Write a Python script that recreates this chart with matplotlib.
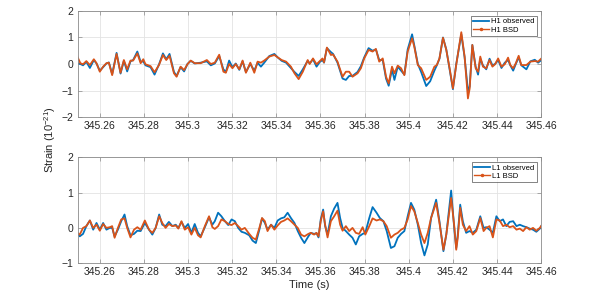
import numpy as np
import matplotlib
matplotlib.use("Agg")
import matplotlib.pyplot as plt
from matplotlib.lines import Line2D

plt.rcParams['font.family'] = ['Liberation Sans', 'DejaVu Sans']
plt.rcParams['mathtext.fontset'] = 'custom'
plt.rcParams['mathtext.rm'] = 'Liberation Sans'
plt.rcParams['mathtext.it'] = 'Liberation Sans:italic'

# H1 (time in s, strain in 1e-21)
h1_t = [345.2497, 345.2512, 345.2524, 345.2539, 345.2555, 345.2573, 345.2585, 345.2600,
        345.2615, 345.2630, 345.2641, 345.2656, 345.2676, 345.2694, 345.2709, 345.2724,
        345.2739, 345.2751, 345.2770, 345.2785, 345.2797, 345.2807, 345.2830, 345.2848,
        345.2868, 345.2886, 345.2901, 345.2916, 345.2936, 345.2948, 345.2966, 345.2982,
        345.2997, 345.3012, 345.3030, 345.3057, 345.3085, 345.3103, 345.3121, 345.3141,
        345.3160, 345.3171, 345.3186, 345.3201, 345.3216, 345.3232, 345.3247, 345.3262,
        345.3282, 345.3300, 345.3315, 345.3330, 345.3345, 345.3368, 345.3391, 345.3406,
        345.3424, 345.3444, 345.3466, 345.3482, 345.3501, 345.3520, 345.3542, 345.3551,
        345.3566, 345.3582, 345.3597, 345.3609, 345.3616, 345.3629, 345.3647, 345.3657,
        345.3677, 345.3700, 345.3715, 345.3730, 345.3745, 345.3768, 345.3783, 345.3798,
        345.3818, 345.3836, 345.3851, 345.3866, 345.3882, 345.3897, 345.3909, 345.3924,
        345.3935, 345.3950, 345.3965, 345.3980, 345.3995, 345.4015, 345.4025, 345.4041,
        345.4056, 345.4079, 345.4097, 345.4116, 345.4127, 345.4139, 345.4155, 345.4170,
        345.4185, 345.4200, 345.4215, 345.4238, 345.4253, 345.4268, 345.4276, 345.4288,
        345.4303, 345.4314, 345.4324, 345.4336, 345.4351, 345.4366, 345.4379, 345.4391,
        345.4405, 345.4420, 345.4435, 345.4450, 345.4460, 345.4473, 345.4485, 345.4498,
        345.4510, 345.4533, 345.4551, 345.4571, 345.4586, 345.4601]
h1_bsd = [0.30, 0.03, -0.01, 0.11, -0.04, 0.18, 0.03, -0.29,
          -0.10, 0.03, 0.05, -0.42, 0.38, -0.33, 0.15, -0.20,
          0.13, 0.13, 0.40, 0.03, 0.18, -0.01, -0.08, -0.31,
          -0.04, 0.34, 0.15, 0.31, -0.35, -0.48, -0.10, -0.23,
          -0.01, 0.13, 0.03, 0.03, 0.15, 0.00, 0.05, 0.35,
          -0.29, -0.33, 0.00, -0.16, 0.00, -0.20, 0.13, -0.33,
          0.05, -0.33, 0.09, 0.05, 0.13, 0.28, 0.34, 0.25,
          0.15, 0.09, -0.10, -0.35, -0.57, -0.29, 0.15, 0.00,
          0.21, -0.01, 0.11, 0.21, 0.06, 0.62, 0.34, 0.36,
          0.09, -0.48, -0.29, -0.29, -0.48, -0.35, -0.16, 0.21,
          0.53, 0.47, 0.57, 0.09, 0.21, -0.48, -0.73, -0.10,
          -0.35, -0.06, -0.16, -0.42, 0.47, 0.97, 0.65, -0.04,
          -0.16, -0.60, -0.48, -0.10, -0.04, 0.21, 0.99, 0.53,
          -0.16, -0.92, -0.04, 1.20, 0.28, -1.30, -0.92, 0.72,
          -0.16, -0.29, 0.28, -0.10, -0.16, 0.15, -0.10, -0.01,
          0.21, -0.10, -0.01, 0.24, -0.04, -0.16, 0.03, 0.31,
          -0.04, -0.04, 0.09, 0.11, 0.09, 0.21]
h1_obs = [0.03, 0.00, -0.05, 0.08, -0.15, 0.15, 0.02, -0.25,
          -0.12, 0.02, 0.06, -0.38, 0.42, -0.36, 0.12, -0.28,
          0.10, 0.15, 0.47, 0.08, 0.10, -0.05, -0.12, -0.40,
          -0.02, 0.40, 0.18, 0.38, -0.30, -0.45, -0.12, -0.28,
          0.00, 0.12, 0.02, 0.05, 0.10, -0.05, 0.02, 0.30,
          -0.20, -0.30, 0.13, -0.12, 0.02, -0.22, 0.10, -0.30,
          0.00, -0.25, 0.05, -0.10, 0.05, 0.30, 0.38, 0.25,
          0.12, 0.05, -0.15, -0.30, -0.45, -0.20, 0.12, 0.02,
          0.18, -0.10, 0.08, 0.15, 0.05, 0.60, 0.45, 0.38,
          0.05, -0.55, -0.60, -0.45, -0.45, -0.30, -0.08, 0.25,
          0.60, 0.50, 0.55, 0.15, 0.15, -0.55, -0.82, -0.20,
          -0.60, -0.10, -0.25, -0.40, 0.55, 1.12, 0.70, 0.00,
          -0.30, -0.83, -0.65, -0.25, -0.05, 0.20, 1.00, 0.55,
          -0.20, -0.95, 0.00, 1.12, 0.25, -1.00, -0.85, 0.72,
          -0.10, -0.40, 0.20, -0.05, -0.20, 0.20, -0.05, 0.00,
          0.15, -0.15, 0.05, 0.15, -0.05, -0.25, 0.00, 0.25,
          -0.05, -0.20, 0.10, 0.16, 0.05, 0.15]

# L1
l1_t = [345.2497, 345.2509, 345.2524, 345.2539, 345.2555, 345.2570, 345.2585, 345.2600,
        345.2615, 345.2630, 345.2645, 345.2656, 345.2667, 345.2682, 345.2697, 345.2712,
        345.2724, 345.2739, 345.2755, 345.2770, 345.2785, 345.2804, 345.2823, 345.2838,
        345.2853, 345.2869, 345.2883, 345.2898, 345.2913, 345.2929, 345.2944, 345.2956,
        345.2970, 345.2985, 345.3000, 345.3015, 345.3030, 345.3045, 345.3057, 345.3076,
        345.3095, 345.3110, 345.3121, 345.3136, 345.3151, 345.3167, 345.3182, 345.3197,
        345.3212, 345.3227, 345.3242, 345.3257, 345.3277, 345.3292, 345.3307, 345.3323,
        345.3335, 345.3348, 345.3360, 345.3376, 345.3391, 345.3406, 345.3421, 345.3436,
        345.3451, 345.3466, 345.3482, 345.3497, 345.3512, 345.3527,
        345.3545, 345.3556, 345.3571, 345.3582, 345.3591, 345.3601, 345.3612, 345.3621,
        345.3632, 345.3647, 345.3662, 345.3677, 345.3689, 345.3700, 345.3715, 345.3730,
        345.3745, 345.3760, 345.3775, 345.3791, 345.3803, 345.3821, 345.3836, 345.3854,
        345.3869, 345.3885, 345.3900, 345.3919, 345.3935, 345.3950, 345.3965, 345.3980,
        345.3995, 345.4010, 345.4025, 345.4041, 345.4056, 345.4071, 345.4086, 345.4101,
        345.4124, 345.4139, 345.4157, 345.4170, 345.4192, 345.4207, 345.4215, 345.4222,
        345.4233, 345.4245, 345.4260, 345.4275, 345.4290, 345.4306, 345.4324, 345.4339,
        345.4351, 345.4366, 345.4381, 345.4397, 345.4412, 345.4427, 345.4442, 345.4457,
        345.4473, 345.4488, 345.4503, 345.4518, 345.4533, 345.4548, 345.4563, 345.4578,
        345.4594, 345.4606]
l1_bsd = [-0.14, -0.19, 0.00, 0.05, 0.21, 0.00, 0.09, -0.08,
          0.11, 0.00, 0.02, 0.05, -0.28, 0.00, 0.24, 0.27,
          0.00, -0.27, -0.05, 0.02, -0.05, 0.21, -0.05, -0.14,
          0.00, 0.33, 0.14, 0.00, 0.11, 0.05, 0.07, -0.02,
          0.19, -0.05, 0.02, -0.19, 0.00, -0.21, -0.27, 0.05,
          0.33, 0.02, -0.03, 0.05, 0.24, 0.19, 0.11, 0.08,
          0.14, 0.05, -0.05, 0.00, -0.17, -0.28, -0.33, 0.00,
          0.28, 0.19, -0.09, 0.09, -0.05, 0.07, 0.17, 0.21,
          0.27, 0.19, 0.09, 0.00, -0.19, -0.24,
          -0.17, -0.14, -0.19, -0.14, -0.24, 0.19, 0.47, 0.09,
          -0.27, 0.19, 0.33, 0.49, 0.09, -0.08, 0.05, -0.09,
          0.00, -0.14, -0.17, 0.02, -0.19, 0.05, 0.27, 0.21,
          0.24, 0.19, 0.05, -0.28, -0.19, -0.14, -0.05, 0.00,
          0.24, 0.62, 0.47, 0.14, -0.19, -0.43, -0.14, 0.28,
          0.71, 0.14, -0.62, -0.19, 0.85, 0.00, -0.62, -0.28,
          0.57, 0.09, -0.09, 0.05, -0.19, -0.09, 0.28, -0.09,
          0.00, 0.05, -0.27, 0.24, 0.21, 0.05, 0.09, 0.02,
          0.05, -0.05, -0.02, -0.09, 0.02, -0.05, 0.00, -0.08,
          0.00, 0.11]
l1_obs = [-0.14, -0.24, -0.17, 0.05, 0.21, -0.05, 0.14, -0.05,
          0.14, -0.05, 0.00, 0.00, -0.24, -0.05, 0.19, 0.38,
          0.05, -0.21, -0.17, -0.08, -0.09, 0.14, -0.05, -0.19,
          0.00, 0.38, 0.09, 0.05, 0.17, 0.05, 0.09, 0.00,
          0.17, 0.00, 0.11, -0.14, 0.11, -0.14, -0.24, 0.02,
          0.30, 0.09, 0.19, 0.43, 0.33, 0.19, 0.08, 0.24,
          0.19, 0.00, -0.11, -0.14, -0.21, -0.36, -0.43, -0.05,
          0.27, 0.14, -0.05, 0.09, 0.00, 0.21, 0.27, 0.30,
          0.43, 0.28, 0.14, -0.09, -0.28, -0.43,
          -0.24, -0.14, -0.17, -0.15, -0.27, 0.24, 0.52, 0.05,
          -0.19, 0.33, 0.55, 0.71, 0.28, 0.00, -0.09, -0.19,
          -0.28, -0.47, -0.24, -0.17, -0.14, 0.28, 0.59, 0.43,
          0.28, 0.19, -0.09, -0.57, -0.52, -0.28, -0.17, -0.09,
          0.33, 0.71, 0.52, 0.09, -0.43, -0.78, -0.47, 0.28,
          0.80, 0.19, -0.66, -0.19, 1.06, -0.09, -0.57, -0.19,
          0.66, 0.19, -0.14, -0.09, -0.14, -0.05, 0.33, 0.00,
          0.02, -0.05, -0.14, 0.33, 0.19, 0.24, 0.05, 0.17,
          0.19, 0.05, 0.09, 0.05, 0.02, -0.02, -0.05, -0.11,
          -0.02, 0.11]

xticks = [345.26, 345.28, 345.30, 345.32, 345.34, 345.36, 345.38, 345.40, 345.42, 345.44, 345.46]
xticklabels = ['345.26', '345.28', '345.3', '345.32', '345.34', '345.36',
               '345.38', '345.4', '345.42', '345.44', '345.46']

blue = '#0072BD'
orange = '#D95319'
tick_col = '#262626'

fig = plt.figure(figsize=(5.98, 2.97), dpi=100)
ax1 = fig.add_axes([0.130, 0.606, 0.775, 0.357])
ax2 = fig.add_axes([0.130, 0.114, 0.775, 0.356])

panels = [(ax1, h1_t, h1_obs, h1_bsd, 'H1', (-2, 2), [-2, -1, 0, 1, 2]),
          (ax2, l1_t, l1_obs, l1_bsd, 'L1', (-1, 2), [-1, 0, 1, 2])]

for ax, t, obs, bsd, name, ylim, yt in panels:
    ax.plot(t, obs, color=blue, lw=1.3, solid_joinstyle='round')
    ax.plot(t, bsd, color=orange, lw=1.3, solid_joinstyle='round')
    ax.set_xlim(345.25, 345.46)
    ax.set_ylim(*ylim)
    ax.set_yticks(yt)
    ax.set_xticks(xticks)
    ax.set_xticklabels(xticklabels)
    ax.grid(True, color='#e3e3e3', lw=0.6)
    ax.set_axisbelow(True)
    ax.tick_params(direction='in', length=3, width=0.5, labelsize=7.5,
                   colors='#8a8a8a', labelcolor=tick_col, top=True, right=True, pad=3)
    for s in ax.spines.values():
        s.set_color('#8a8a8a')
        s.set_linewidth(0.6)
    handles = [Line2D([], [], color=blue, lw=1.3),
               Line2D([], [], color=orange, lw=1.0, marker='.', ms=3)]
    leg = ax.legend(handles, [name + ' observed', name + ' BSD'], loc='upper right',
                    fontsize=5.5, handlelength=2.0, handletextpad=0.3,
                    labelspacing=0.15, borderpad=0.3, borderaxespad=0.6, fancybox=False)
    leg.get_frame().set_edgecolor('#262626')
    leg.get_frame().set_linewidth(0.5)

ax2.set_xlabel('Time (s)', fontsize=8, color=tick_col, labelpad=2)
fig.text(0.083, 0.529, r'Strain ($10^{-21}$)', rotation=90, fontsize=8,
         color=tick_col, ha='center', va='center')

fig.savefig('out.png', dpi=100)
